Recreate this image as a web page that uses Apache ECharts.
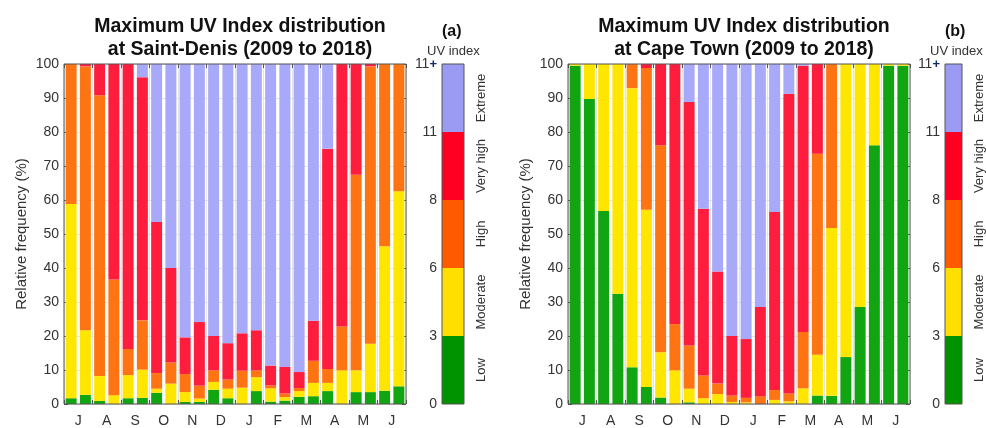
<!DOCTYPE html>
<html><head><meta charset="utf-8">
<script src="https://cdn.jsdelivr.net/npm/echarts@6/dist/echarts.min.js"></script>
<style>html,body{margin:0;padding:0;background:#fff}#c{width:986px;height:428px}</style>
</head><body><div id="c"></div><script>
// ---------- data ----------
const halfMonths = ['Jul a','Jul b','Aug a','Aug b','Sep a','Sep b','Oct a','Oct b','Nov a','Nov b','Dec a','Dec b',
                    'Jan a','Jan b','Feb a','Feb b','Mar a','Mar b','Apr a','Apr b','May a','May b','Jun a','Jun b'];
const monthNames = ['Jul','Aug','Sep','Oct','Nov','Dec','Jan','Feb','Mar','Apr','May','Jun'];
const yTicks = [0,10,20,30,40,50,60,70,80,90,100];
const uvClasses = ['Low','Moderate','High','Very high','Extreme'];
const uvTickLabels = ['0','3','6','8','11','11+'];
const colorbarSpan = [1];

const saintDenisLow      = [1.7, 2.7, 0.9, 0, 1.7, 1.8, 3.3, 0, 0.6, 0.6, 4.2, 1.7, 0, 3.8, 0.7, 1.0, 2.1, 2.3, 3.8, 0, 3.5, 3.5, 3.9, 5.2];
const saintDenisModerate = [57.1, 19.0, 7.3, 2.6, 6.8, 8.3, 1.2, 6.0, 2.9, 1.0, 2.3, 2.8, 4.8, 4.1, 3.9, 1.0, 1.7, 3.9, 2.4, 9.9, 6.4, 14.2, 42.5, 57.4];
const saintDenisHigh     = [41.2, 77.6, 82.6, 34.0, 7.7, 14.5, 4.6, 6.2, 5.3, 3.8, 3.4, 2.7, 5.0, 2.0, 0.9, 1.1, 0.9, 6.5, 4.1, 12.9, 57.5, 81.6, 53.6, 37.4];
const saintDenisVeryHigh = [0, 0.7, 9.2, 63.4, 83.8, 71.5, 44.4, 27.8, 10.8, 18.7, 10.1, 10.7, 11.0, 11.8, 5.8, 7.8, 4.7, 11.8, 64.8, 77.2, 32.6, 0.7, 0, 0];
const saintDenisExtreme  = [0, 0, 0, 0, 0, 3.9, 46.5, 60.0, 80.4, 75.9, 80.0, 82.1, 79.2, 78.3, 88.7, 89.1, 90.6, 75.5, 24.9, 0, 0, 0, 0, 0];

const capeTownLow      = [99.5, 89.7, 56.8, 32.4, 10.8, 5.0, 1.9, 0, 0.5, 0, 0, 0, 0, 0, 0, 0, 0, 2.5, 2.4, 13.8, 28.5, 76.1, 99.5, 99.5];
const capeTownModerate = [0.5, 10.3, 43.2, 67.6, 82.1, 52.1, 13.3, 9.9, 4.0, 1.7, 2.9, 0.6, 0.5, 0, 1.2, 0.8, 4.6, 12.0, 49.4, 86.2, 71.5, 23.9, 0.5, 0.5];
const capeTownHigh     = [0, 0, 0, 0, 7.1, 41.7, 60.9, 13.6, 12.7, 6.7, 3.1, 1.9, 1.3, 2.3, 2.9, 2.3, 16.6, 59.1, 48.2, 0, 0, 0, 0, 0];
const capeTownVeryHigh = [0, 0, 0, 0, 0, 1.2, 23.9, 76.5, 71.6, 49.0, 33.0, 17.5, 17.3, 26.2, 52.4, 88.1, 78.3, 26.4, 0, 0, 0, 0, 0, 0];
const capeTownExtreme  = [0, 0, 0, 0, 0, 0, 0, 0, 11.2, 42.6, 61.0, 80.0, 80.9, 71.5, 43.5, 8.8, 0.5, 0, 0, 0, 0, 0, 0, 0];

// ---------- style ----------
const FONT = 'Liberation Sans, Arial, Helvetica, sans-serif';
const barColors   = ['#12a512', '#ffe600', '#ff7412', '#ff1d3e', '#a9a9f9'];
const scaleColors = ['#009300', '#ffdf00', '#ff5a00', '#ff0022', '#9b9bf4'];
const frameColor = '#555';
const gridLineColor = '#e4e4e4';

const panels = [
  { key:'a', title:'Maximum UV Index distribution\nat Saint-Denis (2009 to 2018)', left:64, cbLeft:442,
    data:[saintDenisLow, saintDenisModerate, saintDenisHigh, saintDenisVeryHigh, saintDenisExtreme] },
  { key:'b', title:'Maximum UV Index distribution\nat Cape Town (2009 to 2018)', left:568, cbLeft:945,
    data:[capeTownLow, capeTownModerate, capeTownHigh, capeTownVeryHigh, capeTownExtreme] }
];

const TOP = 64, H = 340, W = 342, CBW = 22;
const grid = [], xAxis = [], yAxis = [], series = [], title = [], graphic = [];

panels.forEach((p, k) => {
  const gMain = grid.length;
  grid.push({ left:p.left, top:TOP, width:W, height:H, show:true, borderColor:frameColor, borderWidth:1, z:10, backgroundColor:'transparent' });
  const gCb = grid.length;
  grid.push({ left:p.cbLeft, top:TOP, width:CBW, height:H, show:true, borderColor:frameColor, borderWidth:1, z:10, backgroundColor:'transparent' });

  // main x axes
  const xBars = xAxis.length;
  xAxis.push({ type:'category', gridIndex:gMain, data:halfMonths, position:'bottom', show:false });
  xAxis.push({ type:'category', gridIndex:gMain, data:monthNames, position:'bottom',
    axisLine:{show:false, onZero:false},
    axisTick:{show:true, inside:true, length:4, interval:0, lineStyle:{color:frameColor}},
    axisLabel:{show:true, interval:0, margin:10, fontSize:14, color:'#333', fontFamily:FONT, formatter:v => v.charAt(0)},
    splitLine:{show:true, interval:0, lineStyle:{color:gridLineColor, width:1}} });
  xAxis.push({ type:'category', gridIndex:gMain, data:monthNames, position:'top',
    axisLine:{show:false, onZero:false},
    axisTick:{show:true, inside:true, length:4, interval:0, lineStyle:{color:frameColor}},
    axisLabel:{show:false}, splitLine:{show:false} });
  // main y axes
  const yMain = yAxis.length;
  yAxis.push({ type:'value', gridIndex:gMain, min:yTicks[0], max:yTicks[yTicks.length-1], interval:yTicks[1]-yTicks[0], position:'left',
    name:'Relative frequency (%)', nameLocation:'middle', nameGap:35,
    nameTextStyle:{fontSize:15, color:'#333', fontFamily:FONT},
    axisLine:{show:false},
    axisTick:{show:true, inside:true, length:4, lineStyle:{color:frameColor}},
    axisLabel:{margin:5, fontSize:14, color:'#333', fontFamily:FONT},
    splitLine:{show:true, lineStyle:{color:gridLineColor, width:1}} });
  yAxis.push({ type:'value', gridIndex:gMain, min:yTicks[0], max:yTicks[yTicks.length-1], interval:yTicks[1]-yTicks[0], position:'right',
    axisLine:{show:false}, axisTick:{show:true, inside:true, length:4, lineStyle:{color:frameColor}},
    axisLabel:{show:false}, splitLine:{show:false} });

  p.data.forEach((arr, i) => {
    series.push({ type:'bar', name:uvClasses[i], xAxisIndex:xBars, yAxisIndex:yMain, stack:'uv'+p.key,
      data:arr, barCategoryGap:'23%', itemStyle:{color:barColors[i]}, silent:true });
  });

  // colorbar
  const xCb = xAxis.length;
  xAxis.push({ type:'category', gridIndex:gCb, data:['UV index'], show:false });
  const yCb = yAxis.length;
  yAxis.push({ type:'value', gridIndex:gCb, min:0, max:uvTickLabels.length-1, interval:1, position:'left',
    axisLine:{show:false}, axisTick:{show:false}, splitLine:{show:false},
    axisLabel:{margin:5, fontSize:14, color:'#333', fontFamily:FONT,
      formatter:v => { const t = uvTickLabels[v]; return t.endsWith('+') ? t.slice(0,-1)+'{p|+}' : t; },
      rich:{p:{fontSize:13, fontWeight:'bold', color:'#0b2a6b', fontFamily:FONT}} } });
  yAxis.push({ type:'category', gridIndex:gCb, data:uvClasses, position:'right',
    axisLine:{show:false},
    axisTick:{show:true, inside:true, alignWithLabel:true, interval:0, length:3, lineStyle:{color:'#333'}},
    axisLabel:{rotate:90, interval:0, margin:11, fontSize:13, color:'#333', fontFamily:FONT},
    splitLine:{show:false} });
  uvClasses.forEach((c, i) => {
    series.push({ type:'bar', name:c+' scale', xAxisIndex:xCb, yAxisIndex:yCb, stack:'cb'+p.key,
      data:colorbarSpan, barWidth:'100%', itemStyle:{color:scaleColors[i]}, silent:true });
  });

  title.push({ text:p.title, left:p.left + W/2, top:10, textAlign:'center',
    textStyle:{fontSize:19.5, fontWeight:'bold', color:'#111', lineHeight:23, fontFamily:FONT} });
  graphic.push({ type:'text', left:p.cbLeft + CBW/2 - 11, top:24,
    style:{text:'('+p.key+')', font:'bold 16px '+FONT, fill:'#111'} });
  graphic.push({ type:'text', left:p.cbLeft + CBW/2 - 26, top:45,
    style:{text:'UV index', font:'13px '+FONT, fill:'#333'} });
});

const chart = echarts.init(document.getElementById('c'), null, {renderer:'canvas'});
chart.setOption({ animation:false, backgroundColor:'#fff', title, grid, xAxis, yAxis, series, graphic });
</script></body></html>
